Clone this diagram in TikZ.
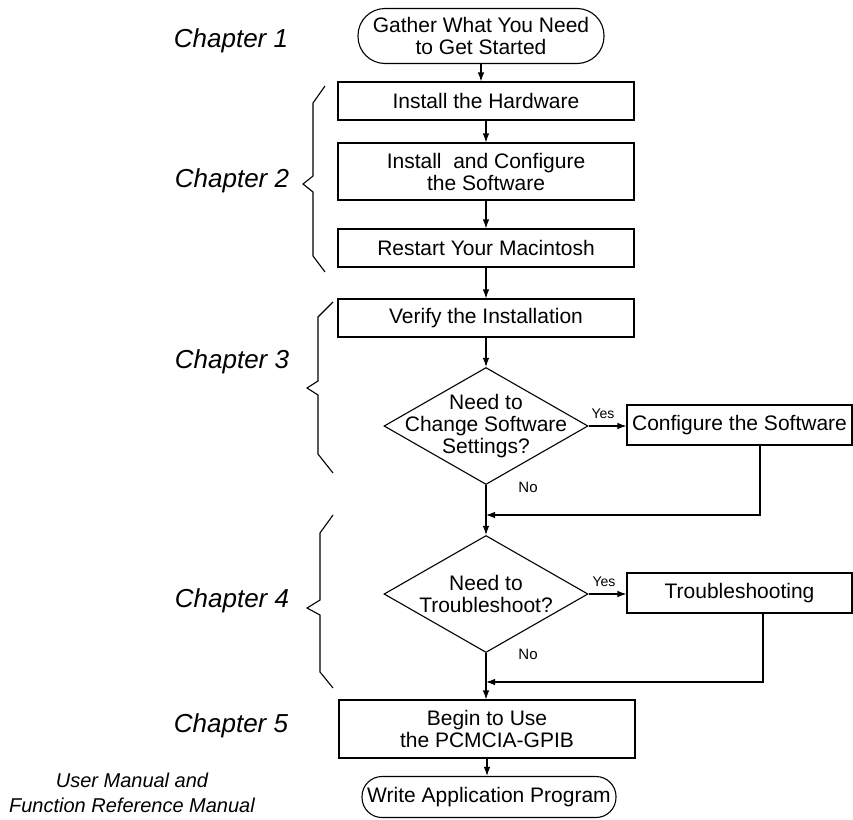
\documentclass[tikz,border=0pt]{standalone}
\usepackage{fontspec}
\setmainfont{Liberation Sans}
\usetikzlibrary{shapes.geometric,arrows.meta}
\begin{document}
\begin{tikzpicture}[x=1pt,y=-1pt,
  box/.style={draw,line width=1.1pt,minimum width=296pt,align=center,inner sep=0pt,font=\fontsize{21}{22}\selectfont},
  term/.style={draw,line width=1.1pt,align=center,inner sep=0pt,font=\fontsize{21}{22}\selectfont},
  dia/.style={draw,diamond,line width=1.1pt,minimum width=204pt,minimum height=117pt,inner sep=0pt},
  dtext/.style={align=center,inner sep=0pt,font=\fontsize{21}{22}\selectfont},
  chap/.style={font=\fontsize{26}{28}\selectfont\itshape},
  manual/.style={align=center,font=\fontsize{20}{25}\selectfont\itshape},
  yeslbl/.style={font=\fontsize{14}{16}\selectfont},
  nolbl/.style={font=\fontsize{15}{17}\selectfont},
  arr/.style={line width=1.1pt,-{Latex[length=9pt,width=6.5pt]}},
  brace/.style={line width=1.1pt},
]
\useasboundingbox (0,0) rectangle (853,819);

% flow nodes
\node[term, minimum width=246pt, minimum height=55pt, rounded corners=27pt] (start) at (481,36) {Gather What You Need\\to Get Started};
\node[box, minimum height=38pt] (hw) at (486,101) {Install the Hardware};
\node[box, minimum height=57pt] (sw) at (486,171.5) {Install\ \ and Configure\\the Software};
\node[box, minimum height=38pt] (rs) at (486,248) {Restart Your Macintosh};
\node[box, minimum height=38pt] (vf) at (486,318) {Verify the Installation};
\node[dia] (d1) at (486,426) {};
\node[dtext] (d1t) at (d1.center) {Need to\\Change Software\\Settings?};
\node[box, minimum width=225pt, minimum height=40pt] (cf) at (739.5,425) {Configure the Software};
\node[dia] (d2) at (486,594) {};
\node[dtext] (d2t) at (d2.center) {Need to\\Troubleshoot?};
\node[box, minimum width=225pt, minimum height=40pt] (ts) at (739.5,593) {Troubleshooting};
\node[box, minimum height=58pt] (bg) at (487,729) {Begin to Use\\the PCMCIA-GPIB};
\node[term, minimum width=254pt, minimum height=41pt, rounded corners=20pt] (wr) at (489,797) {Write Application Program};

% connectors
\draw[arr] (start.south) -- (start.south |- hw.north);
\draw[arr] (hw) -- (sw);
\draw[arr] (sw) -- (rs);
\draw[arr] (rs) -- (vf);
\draw[arr] (vf) -- (d1);
\draw[arr] (d1.east) -- (d1.east -| cf.west);
\draw[arr] (d1.south) -- (d2.north);
\coordinate (j1) at (760,515);
\draw[arr] (cf.south -| j1) -- (j1) -- (j1 -| d1.south);
\draw[arr] (d2.east) -- (d2.east -| ts.west);
\draw[arr] (d2.south) -- (d2.south |- bg.north);
\coordinate (j2) at (763,682);
\draw[arr] (ts.south -| j2) -- (j2) -- (j2 -| d2.south);
\draw[arr] (bg.south) -- (bg.south |- wr.north);

% branch labels
\node[yeslbl] (y1) at (603,414) {Yes};
\node[yeslbl] (y2) at (604,582) {Yes};
\node[nolbl] (n1) at (528,487) {No};
\node[nolbl] (n2) at (528,654) {No};

% chapter labels
\node[chap] (c1) at (231,41) {Chapter 1};
\node[chap] (c2) at (232,181) {Chapter 2};
\node[chap] (c3) at (232,362) {Chapter 3};
\node[chap] (c4) at (232,601) {Chapter 4};
\node[chap] (c5) at (231,726) {Chapter 5};
\node[manual] (um) at (132,793) {User Manual and\\Function Reference Manual};

% braces
\draw[brace] (325,86) -- (313,103) -- (313,176) -- (303,184) -- (313,192) -- (313,256) -- (325,272);
\draw[brace] (333,302) -- (318,317) -- (318,381) -- (307,388) -- (318,395) -- (318,454) -- (333,473);
\draw[brace] (333,515) -- (320,533) -- (320,600) -- (307,608) -- (320,615) -- (320,672) -- (333,688);
\end{tikzpicture}
\end{document}
